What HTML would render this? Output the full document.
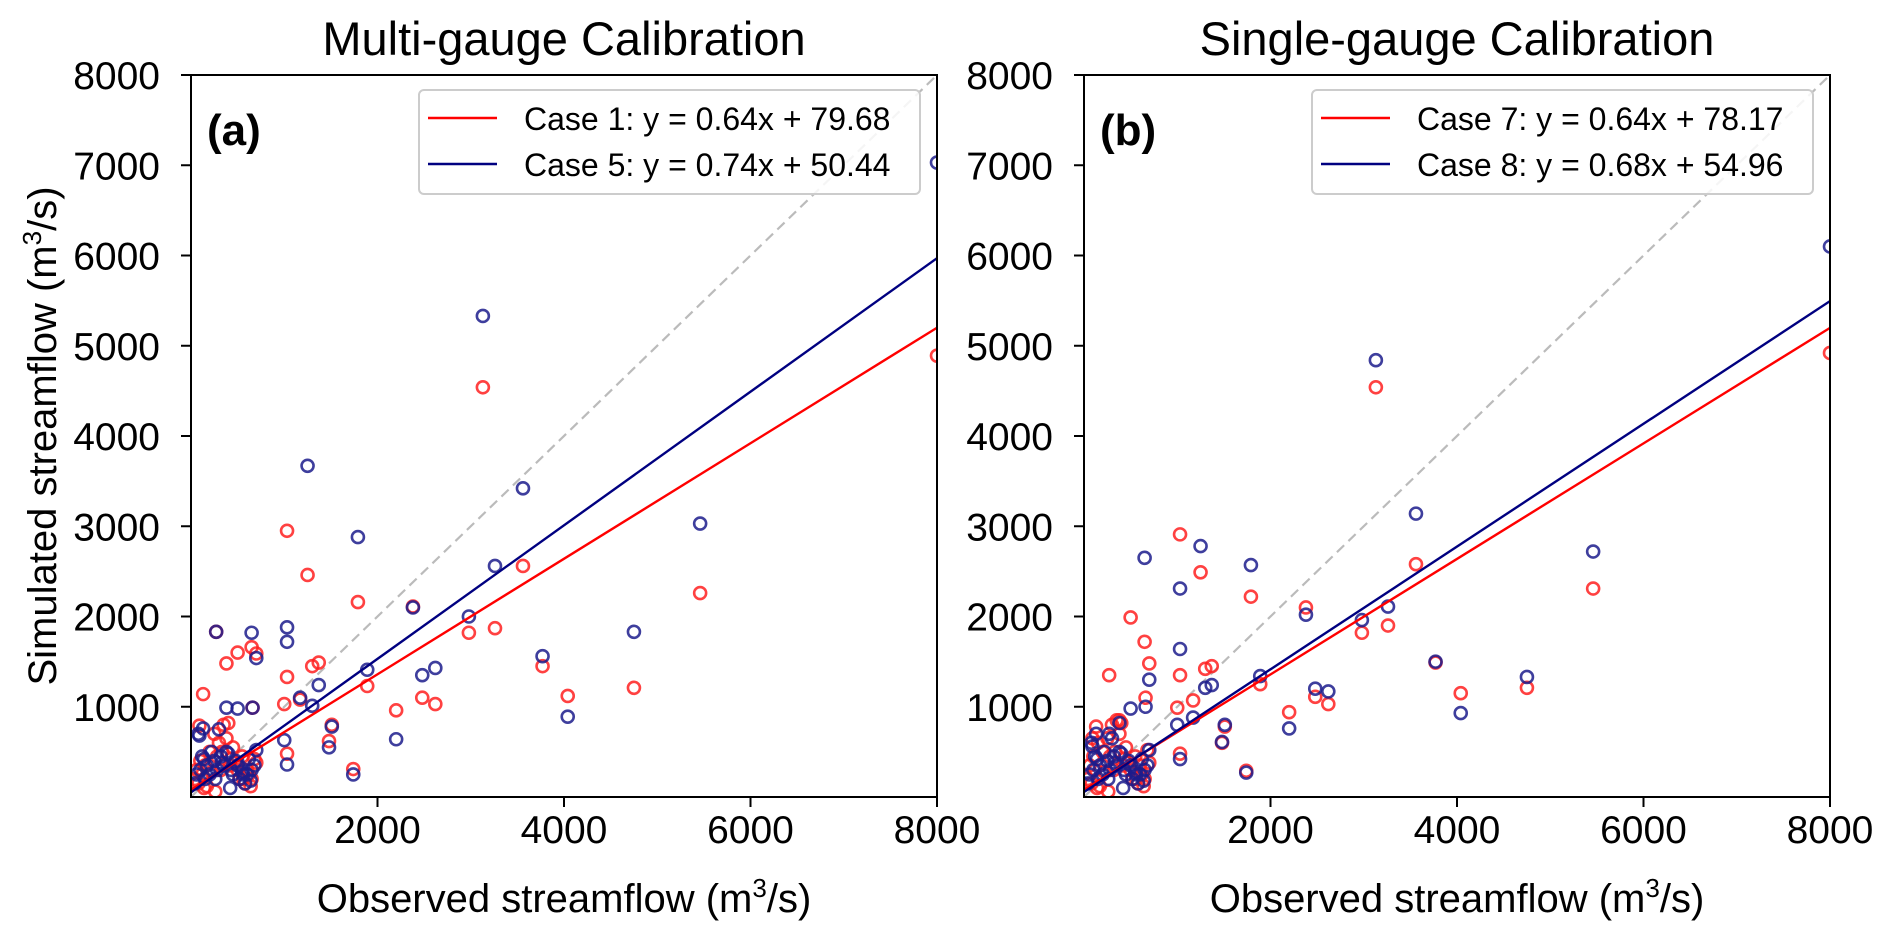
<!DOCTYPE html>
<html><head><meta charset="utf-8"><style>
body{margin:0;background:#fff}
svg{display:block;font-family:"Liberation Sans",Arial,sans-serif}
</style></head><body>
<svg id="chart" width="1892" height="935" viewBox="0 0 1892 935"></svg>
<script>
const xTicks=[2000,4000,6000,8000];
const yTicks=[1000,2000,3000,4000,5000,6000,7000,8000];
const obs=[8000,3130,5460,3560,4750,4040,3770,3260,2980,2380,2620,2480,2200,1790,1890,1740,1250,1030,650,1030,1480,1510,1370,1170,1300,1030,1000,500,700,270,380,130,660,
 40,60,80,100,120,150,170,200,220,250,280,300,320,350,380,400,430,450,480,500,520,550,580,600,620,650,680,700,90,140,260,330,420,560,640];
const simCase1=[4890,4540,2260,2560,1210,1120,1450,1870,1820,2110,1030,1100,960,2160,1230,310,2460,2950,1660,1330,620,800,1490,1080,1450,480,1030,1600,1590,1830,1480,1140,990,
 200,300,150,400,250,350,120,500,280,700,450,600,300,800,650,820,420,550,380,300,200,450,150,300,250,200,420,380,790,100,60,500,350,200,120];
const simCase5=[7030,5330,3030,3420,1830,890,1560,2560,2000,2100,1430,1350,640,2880,1410,250,3670,1880,1820,1720,550,780,1240,1100,1010,360,630,980,1540,1830,990,760,990,
 150,250,700,300,450,200,350,250,500,400,300,750,450,350,500,480,300,250,400,350,200,280,150,250,420,300,350,520,680,420,200,380,100,250,180];
const simCase7=[4920,4540,2310,2580,1210,1150,1490,1900,1820,2100,1030,1110,940,2220,1250,290,2490,2910,1720,1350,600,780,1450,1070,1420,480,990,1990,1480,1350,850,780,1100,
 200,350,150,450,300,600,120,500,280,650,450,800,300,850,700,820,420,550,380,300,200,450,150,350,250,200,520,380,650,100,60,500,350,200,120];
const simCase8=[6100,4840,2720,3140,1330,930,1500,2110,1960,2020,1170,1200,760,2570,1340,270,2780,2310,2650,1640,610,800,1240,880,1210,420,800,980,1300,700,820,700,1000,
 150,250,600,300,450,200,350,250,500,400,300,650,450,350,500,480,300,250,400,350,200,280,150,250,420,300,350,520,560,420,200,380,100,250,180];
const fitA=[[0.64,79.68],[0.74,50.44]];
const fitB=[[0.64,78.17],[0.68,54.96]];
const NS="http://www.w3.org/2000/svg";
const svg=document.getElementById('chart');
function mk(tag,attrs,parent,text){const e=document.createElementNS(NS,tag);for(const k in attrs)e.setAttribute(k,attrs[k]);if(text!==undefined)e.textContent=text;(parent||svg).appendChild(e);return e;}
const T=75,B=797,W=746;
function panel(L,key,title,label,simR,simB,fits,names){
  const g=mk('g',{});
  
  
  const X=v=>L+v/8000*W, Y=v=>B-v/8000*(B-T);
  const t=mk('text',{x:L+W/2,y:55,'text-anchor':'middle','font-size':47},g,title);
  
  
  const clip=mk('clipPath',{id:'c'+key},g);mk('rect',{x:L,y:T,width:W,height:B-T},clip);
  const pg=mk('g',{'clip-path':'url(#c'+key+')'},g);
  const d=mk('line',{x1:X(0),y1:Y(0),x2:X(8000),y2:Y(8000),stroke:'#bbb','stroke-width':2.2,'stroke-dasharray':'10,6'},pg);
  
  
  const cols=['#ff2020','#1c1c8c'];
  [simR,simB].forEach((s,si)=>{obs.forEach((o,i)=>{
    const c=mk('circle',{cx:X(o),cy:Y(s[i]),r:6,fill:'none',stroke:cols[si],'stroke-width':2.6,'stroke-opacity':0.85},pg);
    
    
  });});
  const lc=['#ff0000','#000080'];
  fits.forEach((f,fi)=>{
    const l=mk('line',{x1:X(0),y1:Y(f[1]),x2:X(8000),y2:Y(f[0]*8000+f[1]),stroke:lc[fi],'stroke-width':2.4},pg);
    
    
  });
  const fr=mk('rect',{x:L,y:T,width:W,height:B-T,fill:'none',stroke:'#000','stroke-width':2},g);
  
  
  xTicks.forEach(v=>{mk('line',{x1:X(v),y1:B,x2:X(v),y2:B+10,stroke:'#000','stroke-width':2},g);
    const tt=mk('text',{x:X(v),y:B+46,'text-anchor':'middle','font-size':39},g,String(v));
    
    });
  yTicks.forEach(v=>{mk('line',{x1:L-10,y1:Y(v),x2:L,y2:Y(v),stroke:'#000','stroke-width':2},g);
    const tt=mk('text',{x:L-31,y:Y(v)+14,'text-anchor':'end','font-size':39},g,String(v));
    
    });
  const xl=mk('text',{x:L+W/2,y:912,'text-anchor':'middle','font-size':40},g);
  xl.innerHTML='Observed streamflow (m<tspan dy="-15" font-size="26">3</tspan><tspan dy="15">/s)</tspan>';
  
  
  const pl=mk('text',{x:L+16,y:145,'font-size':44,'font-weight':'bold'},g,label);
  
  
  const lg=mk('g',{},g);
  
  
  mk('rect',{x:L+228,y:90,width:501,height:104,rx:5,fill:'#fff','fill-opacity':0.85,stroke:'#ccc','stroke-width':2},lg);
  fits.forEach((f,fi)=>{const yy=118+fi*46;
    mk('line',{x1:L+237,y1:yy,x2:L+306,y2:yy,stroke:lc[fi],'stroke-width':2.6},lg);
    const e=mk('text',{x:L+333,y:yy+12,'font-size':32},lg,names[fi]+': y = '+f[0].toFixed(2)+'x + '+f[1].toFixed(2));
    
    });
}
panel(191,'a','Multi-gauge Calibration','(a)',simCase1,simCase5,fitA,['Case 1','Case 5']);
panel(1084,'b','Single-gauge Calibration','(b)',simCase7,simCase8,fitB,['Case 7','Case 8']);
const yl=mk('text',{x:0,y:0,'text-anchor':'middle','font-size':40,transform:'translate(56,436) rotate(-90)'});
yl.innerHTML='Simulated streamflow (m<tspan dy="-15" font-size="26">3</tspan><tspan dy="15">/s)</tspan>';


</script>
</body></html>
